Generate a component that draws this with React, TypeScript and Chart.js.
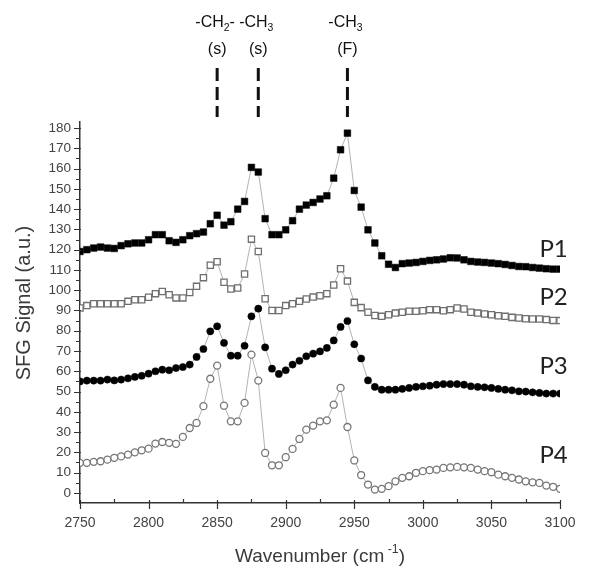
import { useEffect, useRef } from 'react';
import { Chart, registerables } from 'chart.js';

Chart.register(...registerables);

const wavenumbers = [
  2750, 2755, 2760, 2765, 2770, 2775, 2780, 2785, 2790, 2795,
  2800, 2805, 2810, 2815, 2820, 2825, 2830, 2835, 2840, 2845,
  2850, 2855, 2860, 2865, 2870, 2875, 2880, 2885, 2890, 2895,
  2900, 2905, 2910, 2915, 2920, 2925, 2930, 2935, 2940, 2945,
  2950, 2955, 2960, 2965, 2970, 2975, 2980, 2985, 2990, 2995,
  3000, 3005, 3010, 3015, 3020, 3025, 3030, 3035, 3040, 3045,
  3050, 3055, 3060, 3065, 3070, 3075, 3080, 3085, 3090, 3095, 3100,
];

const P1 = [
  119.1, 120.0, 120.8, 121.3, 120.8, 120.6, 122.0, 122.9, 123.3, 123.3,
  124.9, 127.4, 127.4, 124.4, 123.6, 124.9, 126.9, 127.9, 128.7, 132.8,
  137.0, 132.1, 133.8, 140.0, 143.8, 160.6, 158.3, 135.3, 127.4, 127.4,
  129.8, 134.3, 140.0, 142.0, 143.3, 145.0, 146.6, 155.3, 169.3, 177.5,
  149.2, 141.0, 129.8, 123.3, 117.0, 112.8, 111.2, 113.1, 113.4, 113.7,
  114.2, 114.7, 115.0, 115.4, 116.0, 115.9, 115.0, 114.2, 113.9, 113.7,
  113.4, 113.1, 112.7, 112.2, 111.7, 111.6, 111.2, 110.9, 110.6, 110.4, 110.4,
];

const P2 = [
  91.2, 92.4, 93.3, 93.3, 93.3, 93.3, 93.3, 94.5, 95.3, 95.3,
  96.5, 98.3, 99.4, 97.8, 96.2, 96.2, 98.9, 101.9, 106.2, 112.3,
  114.0, 103.9, 100.6, 101.1, 108.0, 125.2, 119.1, 95.8, 90.0, 90.0,
  92.4, 93.3, 94.5, 95.7, 96.6, 97.3, 98.3, 102.6, 110.6, 104.5,
  94.0, 91.4, 89.1, 87.5, 87.1, 87.9, 88.7, 89.1, 89.6, 89.6,
  89.9, 90.4, 90.4, 89.9, 90.4, 91.2, 90.7, 89.1, 88.7, 88.3,
  87.9, 87.4, 87.1, 86.6, 86.3, 85.9, 85.8, 85.8, 85.5, 85.1, 85.0,
];

const P3 = [
  55.0, 55.4, 55.4, 55.4, 55.9, 55.5, 55.9, 56.5, 57.2, 57.8,
  58.8, 60.0, 60.8, 60.5, 61.6, 62.1, 63.3, 67.1, 71.0, 79.7,
  82.2, 74.0, 67.7, 67.7, 72.6, 87.1, 90.9, 71.8, 61.3, 58.7,
  60.5, 63.3, 65.2, 67.4, 68.7, 69.8, 71.5, 75.2, 81.9, 84.8,
  73.3, 66.3, 55.5, 52.3, 50.9, 50.9, 50.9, 51.3, 51.8, 52.3,
  52.6, 52.9, 53.4, 53.7, 53.7, 53.7, 53.4, 52.6, 52.3, 52.1,
  51.8, 51.3, 50.9, 50.6, 50.1, 50.0, 49.6, 49.3, 49.0, 49.0, 49.0,
];

const P4 = [
  14.8, 14.8, 15.3, 15.6, 16.4, 17.3, 18.0, 18.9, 20.0, 21.0,
  21.8, 24.3, 25.1, 24.7, 24.2, 27.6, 32.0, 34.5, 42.8, 56.3,
  62.8, 43.0, 35.3, 35.3, 44.4, 68.2, 55.4, 19.7, 13.6, 13.6,
  17.6, 21.7, 26.6, 31.2, 33.2, 35.3, 35.8, 43.5, 51.8, 32.5,
  16.0, 8.8, 4.1, 1.6, 2.0, 3.3, 5.7, 7.4, 8.2, 9.9,
  10.7, 11.2, 11.5, 12.3, 12.6, 12.8, 12.6, 12.3, 11.5, 10.7,
  10.2, 9.0, 8.2, 7.4, 6.6, 5.7, 5.2, 4.9, 3.6, 3.0, 2.0,
];

const seriesNames = ['P1', 'P2', 'P3', 'P4'];
const seriesLabelValues = [120.0, 96.3, 62.3, 18.4];

const xTicks = [2750, 2800, 2850, 2900, 2950, 3000, 3050, 3100];
const yTicks = [0, 10, 20, 30, 40, 50, 60, 70, 80, 90, 100, 110, 120, 130, 140, 150, 160, 170, 180];

const peakPositions = [2850, 2880, 2945];
const peakGroups = ['-CH2-', '-CH3', '-CH3'];
const peakModes = ['(s)', '(s)', '(F)'];

const SANS = '"Liberation Sans", Arial, sans-serif';

type Part = { t: string; sub?: boolean; sup?: boolean };

function drawRich(ctx: CanvasRenderingContext2D, parts: Part[], cx: number, cy: number, size: number, color: string) {
  const small = size * 0.65;
  let total = 0;
  const widths = parts.map((p) => {
    ctx.font = `${p.sub || p.sup ? small : size}px ${SANS}`;
    const w = ctx.measureText(p.t).width;
    total += w;
    return w;
  });
  let x = cx - total / 2;
  ctx.fillStyle = color;
  ctx.textBaseline = 'middle';
  ctx.textAlign = 'left';
  parts.forEach((p, i) => {
    ctx.font = `${p.sub || p.sup ? small : size}px ${SANS}`;
    const dy = p.sub ? size * 0.3 : p.sup ? -size * 0.38 : 0;
    ctx.fillText(p.t, x, cy + dy);
    x += widths[i];
  });
}

function groupParts(g: string): Part[] {
  if (g === '-CH2-') return [{ t: '-CH' }, { t: '2', sub: true }, { t: '-' }];
  return [{ t: '-CH' }, { t: '3', sub: true }];
}

const decorPlugin = {
  id: 'decor',
  afterDraw(chart: any) {
    const ctx: CanvasRenderingContext2D = chart.ctx;
    const xs = chart.scales.x;
    const ys = chart.scales.y;
    const area = chart.chartArea;
    ctx.save();

    ctx.strokeStyle = '#333';
    ctx.lineWidth = 1.2;
    ctx.beginPath();
    for (let v = 2750; v <= 3100; v += 25) {
      const px = Math.round(xs.getPixelForValue(v)) + 0.5;
      if (v % 50 === 0) {
        ctx.moveTo(px, area.bottom - 3);
        ctx.lineTo(px, area.bottom + 6);
      } else {
        ctx.moveTo(px, area.bottom - 4);
        ctx.lineTo(px, area.bottom);
      }
    }
    for (let v = 0; v <= 180; v += 5) {
      const py = Math.round(ys.getPixelForValue(v)) + 0.5;
      if (v % 10 === 0) {
        ctx.moveTo(area.left - 6, py);
        ctx.lineTo(area.left + 1, py);
      } else {
        ctx.moveTo(area.left - 4, py);
        ctx.lineTo(area.left, py);
      }
    }
    ctx.stroke();

    ctx.save();
    ctx.translate(24, 303);
    ctx.rotate(-Math.PI / 2);
    ctx.font = `20px ${SANS}`;
    ctx.fillStyle = '#3a3a3a';
    ctx.textAlign = 'center';
    ctx.textBaseline = 'middle';
    ctx.fillText('SFG Signal (a.u.)', 0, 0);
    ctx.restore();

    drawRich(
      ctx,
      [{ t: 'Wavenumber (cm' }, { t: ' -1', sup: true }, { t: ')' }],
      (area.left + area.right) / 2,
      557,
      19,
      '#3a3a3a'
    );

    peakPositions.forEach((w, i) => {
      const px = xs.getPixelForValue(w);
      drawRich(ctx, groupParts(peakGroups[i]), px - 2, 23, 16, '#111');
      drawRich(ctx, [{ t: peakModes[i] }], px, 50, 16, '#111');
      ctx.strokeStyle = '#111';
      ctx.lineWidth = 3;
      ctx.setLineDash([13, 6]);
      ctx.beginPath();
      ctx.moveTo(px, 68);
      ctx.lineTo(px, 117);
      ctx.stroke();
      ctx.setLineDash([]);
    });

    ctx.font = '24px Lato, "Open Sans", sans-serif';
    ctx.fillStyle = '#222';
    ctx.textAlign = 'left';
    ctx.textBaseline = 'middle';
    seriesNames.forEach((n, i) => {
      ctx.fillText(n, xs.getPixelForValue(3085), ys.getPixelForValue(seriesLabelValues[i]));
    });

    ctx.restore();
  },
};

function toPoints(vals: number[]) {
  return vals.map((v, i) => ({ x: wavenumbers[i], y: v }));
}

export default function App() {
  const ref = useRef<HTMLCanvasElement | null>(null);

  useEffect(() => {
    if (!ref.current) return;
    const lineColor = '#b3b3b3';
    const chart = new Chart(ref.current, {
      type: 'line',
      data: {
        datasets: [
          {
            label: 'P4',
            data: toPoints(P4),
            borderColor: lineColor,
            borderWidth: 1,
            pointStyle: 'circle',
            pointRadius: 3.5,
            pointBackgroundColor: '#fff',
            pointBorderColor: '#757575',
            pointBorderWidth: 1.3,
          },
          {
            label: 'P3',
            data: toPoints(P3),
            borderColor: lineColor,
            borderWidth: 1,
            pointStyle: 'circle',
            pointRadius: 3.6,
            pointBackgroundColor: '#000',
            pointBorderColor: '#000',
            pointBorderWidth: 0.5,
          },
          {
            label: 'P2',
            data: toPoints(P2),
            borderColor: lineColor,
            borderWidth: 1,
            pointStyle: 'rect',
            pointRadius: 4.4,
            pointBackgroundColor: '#fff',
            pointBorderColor: '#6f6f6f',
            pointBorderWidth: 1.3,
          },
          {
            label: 'P1',
            data: toPoints(P1),
            borderColor: lineColor,
            borderWidth: 1,
            pointStyle: 'rect',
            pointRadius: 4.7,
            pointBackgroundColor: '#000',
            pointBorderColor: '#000',
            pointBorderWidth: 0.5,
          },
        ],
      },
      options: {
        animation: false,
        responsive: false,
        devicePixelRatio: 1,
        layout: { padding: { left: 0, right: 40, top: 122, bottom: 0 } },
        plugins: {
          legend: { display: false },
          tooltip: { enabled: false },
        },
        scales: {
          x: {
            type: 'linear',
            min: 2750,
            max: 3100,
            afterBuildTicks: (s: any) => {
              s.ticks = xTicks.map((v) => ({ value: v }));
            },
            afterFit: (s: any) => {
              s.height = 72;
            },
            ticks: {
              autoSkip: false,
              maxRotation: 0,
              padding: 12,
              color: '#444',
              font: { family: SANS, size: 14 },
              callback: (v: any) => String(v),
            },
            grid: { display: false, drawTicks: false },
            border: { display: true, color: '#333', width: 1.5 },
          },
          y: {
            type: 'linear',
            min: -5,
            max: 183,
            afterBuildTicks: (s: any) => {
              s.ticks = yTicks.map((v) => ({ value: v }));
            },
            afterFit: (s: any) => {
              s.width = 80;
            },
            ticks: {
              padding: 9,
              color: '#444',
              font: { family: SANS, size: 13.5 },
              callback: (v: any) => String(v),
            },
            grid: { display: false, drawTicks: false },
            border: { display: true, color: '#333', width: 1.5 },
          },
        },
      },
      plugins: [decorPlugin],
    } as any);
    return () => chart.destroy();
  }, []);

  return (
    <div style={{ position: 'absolute', left: 0, top: 0, width: 600, height: 575, background: '#fff' }}>
      <canvas ref={ref} width={600} height={575} style={{ width: 600, height: 575 }} />
    </div>
  );
}
